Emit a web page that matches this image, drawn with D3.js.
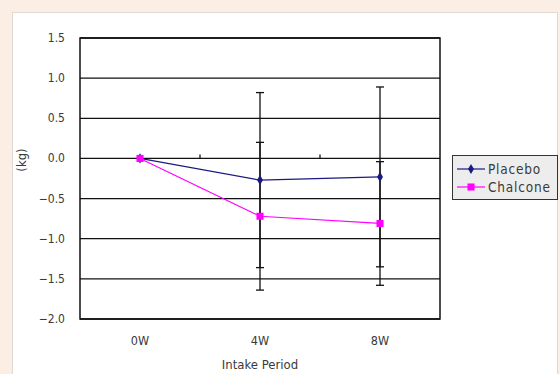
<!DOCTYPE html>
<html>
<head>
<meta charset="utf-8">
<script src="https://cdn.jsdelivr.net/npm/d3@7"></script>
<style>
  body { margin: 0; background: #fbeee4; }
  svg { display: block; }
  text { font-family: "Liberation Sans Narrow", "DejaVu Sans Condensed", "Liberation Sans", sans-serif; fill: #3a3a3a; }
</style>
</head>
<body>
<div id="app"></div>
<script>
// data
const periods = ['0W', '4W', '8W']
const placebo = [0, -0.27, -0.23]
const placeboSd = [0, 1.09, 1.12]
const chalcone = [0, -0.72, -0.81]
const chalconeSd = [0, 0.92, 0.77]
const yTicks = [1.5, 1.0, 0.5, 0.0, -0.5, -1.0, -1.5, -2.0]

const width = 560, height = 374
const plot = {left: 80, right: 440, top: 38, bottom: 319}

const svg = d3.select('#app').append('svg')
    .attr('width', width)
    .attr('height', height)

// white panel
svg.append('rect')
    .attr('x', 12.5).attr('y', 12.5)
    .attr('width', 545).attr('height', 370)
    .attr('fill', '#fff')
    .attr('stroke', '#e2d8d0')

const xScale = d3.scaleBand().domain(periods).range([plot.left, plot.right])
const yScale = d3.scaleLinear().domain([-2, 1.5]).range([plot.bottom, plot.top])
const cx = d => xScale(d) + xScale.bandwidth()/2

// grid
svg.append('g').selectAll('line')
    .data(yTicks).enter().append('line')
    .attr('x1', plot.left).attr('x2', plot.right)
    .attr('y1', d => yScale(d)).attr('y2', d => yScale(d))
    .attr('stroke', '#111').attr('stroke-width', 1.3)

svg.append('rect')
    .attr('x', plot.left).attr('y', plot.top)
    .attr('width', plot.right - plot.left).attr('height', plot.bottom - plot.top)
    .attr('fill', 'none').attr('stroke', '#111').attr('stroke-width', 1.5)

// category tick marks sit on the zero line
svg.append('g').selectAll('line')
    .data(periods.slice(1)).enter().append('line')
    .attr('x1', d => xScale(d)).attr('x2', d => xScale(d))
    .attr('y1', yScale(0)).attr('y2', yScale(0) - 4)
    .attr('stroke', '#111').attr('stroke-width', 1.3)

// y tick labels
svg.append('g').selectAll('text')
    .data(yTicks).enter().append('text')
    .attr('x', 65).attr('y', d => yScale(d) + 4)
    .attr('text-anchor', 'end')
    .style('font-size', '12px')
    .text(d => d3.format('.1f')(d).replace('-', '\u2212'))

// x tick labels
svg.append('g').selectAll('text')
    .data(periods).enter().append('text')
    .attr('x', d => cx(d)).attr('y', 345)
    .attr('text-anchor', 'middle')
    .style('font-size', '12.5px')
    .text(d => d)

svg.append('text').text('Intake Period')
    .attr('x', 260).attr('y', 369)
    .attr('text-anchor', 'middle')
    .style('font-size', '13px')

svg.append('text').text('(kg)')
    .attr('transform', 'translate(26,160) rotate(-90)')
    .attr('text-anchor', 'middle')
    .style('font-size', '13px')

// error bars
const series = [
    {name: 'Placebo', values: placebo, sd: placeboSd, color: '#1a1a80'},
    {name: 'Chalcone', values: chalcone, sd: chalconeSd, color: '#ff00ff'}
]
series.forEach(s => {
    const g = svg.append('g')
    const bars = periods.map((p, i) => ({p, v: s.values[i], sd: s.sd[i]})).filter(d => d.sd > 0)
    g.selectAll('line.err').data(bars).enter().append('line')
        .attr('x1', d => cx(d.p)).attr('x2', d => cx(d.p))
        .attr('y1', d => yScale(d.v + d.sd)).attr('y2', d => yScale(d.v - d.sd))
        .attr('stroke', '#111').attr('stroke-width', 1.3)
    const caps = bars.flatMap(d => [{p: d.p, y: d.v + d.sd}, {p: d.p, y: d.v - d.sd}])
    g.selectAll('line.cap').data(caps).enter().append('line')
        .attr('x1', d => cx(d.p) - 4).attr('x2', d => cx(d.p) + 4)
        .attr('y1', d => yScale(d.y)).attr('y2', d => yScale(d.y))
        .attr('stroke', '#111').attr('stroke-width', 1.3)
})

// lines and markers
const line = d3.line().x((d, i) => cx(periods[i])).y(d => yScale(d))
series.forEach((s, k) => {
    svg.append('path')
        .attr('d', line(s.values))
        .attr('fill', 'none')
        .attr('stroke', s.color)
        .attr('stroke-width', 1.2)
    svg.append('g').selectAll('path')
        .data(s.values).enter().append('path')
        .attr('transform', (d, i) => `translate(${cx(periods[i])},${yScale(d)})`)
        .attr('d', k == 0 ? d3.symbol(d3.symbolDiamond, 30)() : d3.symbol(d3.symbolSquare, 50)())
        .attr('fill', s.color)
})

// legend
const legend = svg.append('g')
legend.append('rect')
    .attr('x', 452.5).attr('y', 155.5)
    .attr('width', 105).attr('height', 44)
    .attr('fill', '#ededed').attr('stroke', '#333')
series.forEach((s, k) => {
    const y = 169 + k*18
    legend.append('line')
        .attr('x1', 457).attr('x2', 485).attr('y1', y).attr('y2', y)
        .attr('stroke', s.color).attr('stroke-width', 1.2)
    legend.append('path')
        .attr('transform', `translate(471,${y})`)
        .attr('d', k == 0 ? d3.symbol(d3.symbolDiamond, 30)() : d3.symbol(d3.symbolSquare, 50)())
        .attr('fill', s.color)
    legend.append('text')
        .attr('x', 488).attr('y', y + 5)
        .style('font-size', '13.5px')
        .style('letter-spacing', '0.8px')
        .text(s.name)
})
</script>
</body>
</html>
